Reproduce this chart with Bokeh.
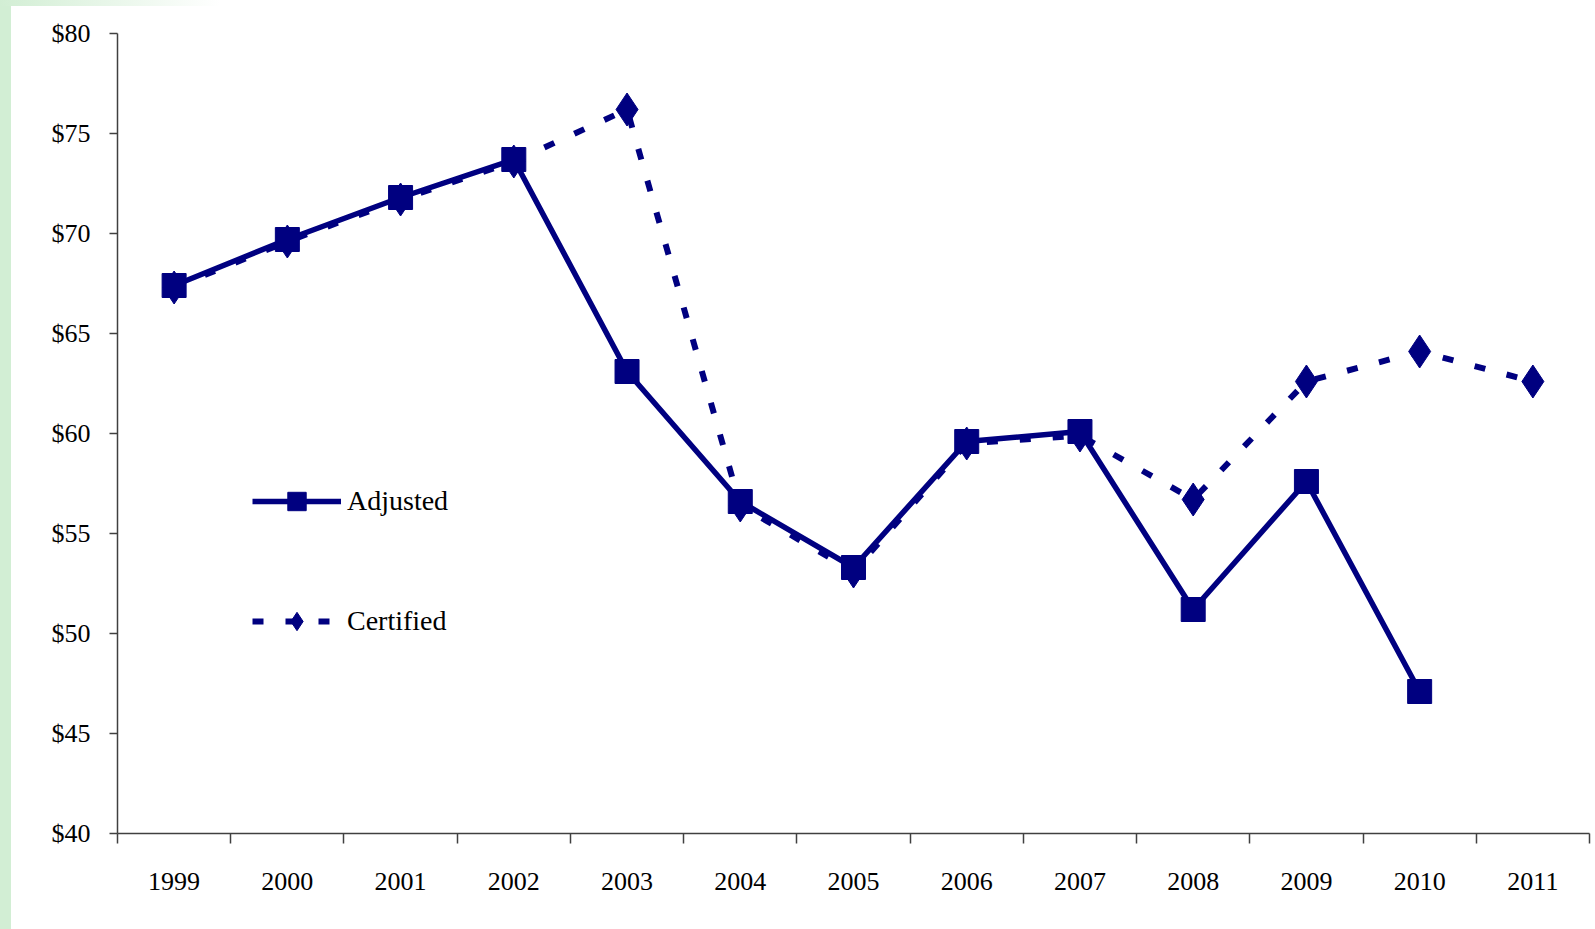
from bokeh.plotting import figure
from bokeh.models import (FixedTicker, NumeralTickFormatter, Legend, LegendItem,
                          Range1d, Spacer)
from bokeh.layouts import row, column
from bokeh.embed import file_html
from bokeh.resources import INLINE

years = [1999, 2000, 2001, 2002, 2003, 2004, 2005, 2006, 2007, 2008, 2009, 2010, 2011]
adjusted = [67.4, 69.7, 71.8, 73.7, 63.1, 56.6, 53.3, 59.6, 60.1, 51.2, 57.6, 47.1]
certified = [67.3, 69.6, 71.7, 73.6, 76.2, 56.4, 53.1, 59.5, 59.9, 56.7, 62.6, 64.1, 62.6]
y_ticks = [40, 45, 50, 55, 60, 65, 70, 75, 80]

NAVY = "#000080"
AXIS = "#404040"
FONT = "Liberation Serif"

p = figure(width=1584, height=923, output_backend="svg", toolbar_location=None,
           x_range=Range1d(years[0] - 0.5, years[-1] + 0.5),
           y_range=Range1d(y_ticks[0], y_ticks[-1]),
           min_border_left=106, min_border_right=6, min_border_top=27,
           min_border_bottom=96)
p.outline_line_color = None
p.xgrid.visible = False
p.ygrid.visible = False
p.background_fill_color = "white"
p.border_fill_color = "white"

boundaries = [y - 0.5 for y in years] + [years[-1] + 0.5]
p.xaxis.ticker = FixedTicker(ticks=years, minor_ticks=boundaries)
p.xaxis.major_tick_out = 0
p.xaxis.major_tick_in = 0
p.xaxis.minor_tick_out = 10
p.xaxis.minor_tick_in = 0
p.xaxis.minor_tick_line_color = AXIS
p.xaxis.minor_tick_line_width = 1.5
p.xaxis.major_label_standoff = 29

p.yaxis.ticker = FixedTicker(ticks=y_ticks)
p.yaxis.formatter = NumeralTickFormatter(format="$0")
p.yaxis.major_tick_out = 8
p.yaxis.major_tick_in = 0
p.yaxis.minor_tick_out = 0
p.yaxis.minor_tick_in = 0
p.yaxis.major_label_standoff = 19

for ax in (p.xaxis, p.yaxis):
    ax.axis_line_color = AXIS
    ax.axis_line_width = 1.5
    ax.major_tick_line_color = AXIS
    ax.major_tick_line_width = 1.5
    ax.major_label_text_font = FONT
    ax.major_label_text_font_size = "26px"
    ax.major_label_text_color = "black"

cl = p.line(years, certified, line_color=NAVY, line_width=6, line_dash="11 22")
cs = p.scatter(years, certified, marker="diamond", size=33, color=NAVY)
al = p.line(years[:len(adjusted)], adjusted, line_color=NAVY, line_width=5.5)
asq = p.scatter(years[:len(adjusted)], adjusted, marker="square", size=24, color=NAVY)

legend = Legend(items=[LegendItem(label="Adjusted", renderers=[al, asq]),
                       LegendItem(label="Certified", renderers=[cl, cs])],
                location=(135, 189), glyph_width=89, glyph_height=46, spacing=74,
                padding=0, margin=0, border_line_color=None,
                background_fill_alpha=0, label_text_font=FONT,
                label_text_font_size="28px", label_text_color="black",
                label_standoff=6)
p.add_layout(legend)

top = Spacer(width=1595, height=6,
             styles={"background": "linear-gradient(to right, #d2eed4 0px, #ffffff 220px)"})
left = Spacer(width=11, height=923, styles={"background-color": "#d2eed4"})
layout = column(top, row(left, p))

open("out.html", "w").write(file_html(layout, INLINE))
